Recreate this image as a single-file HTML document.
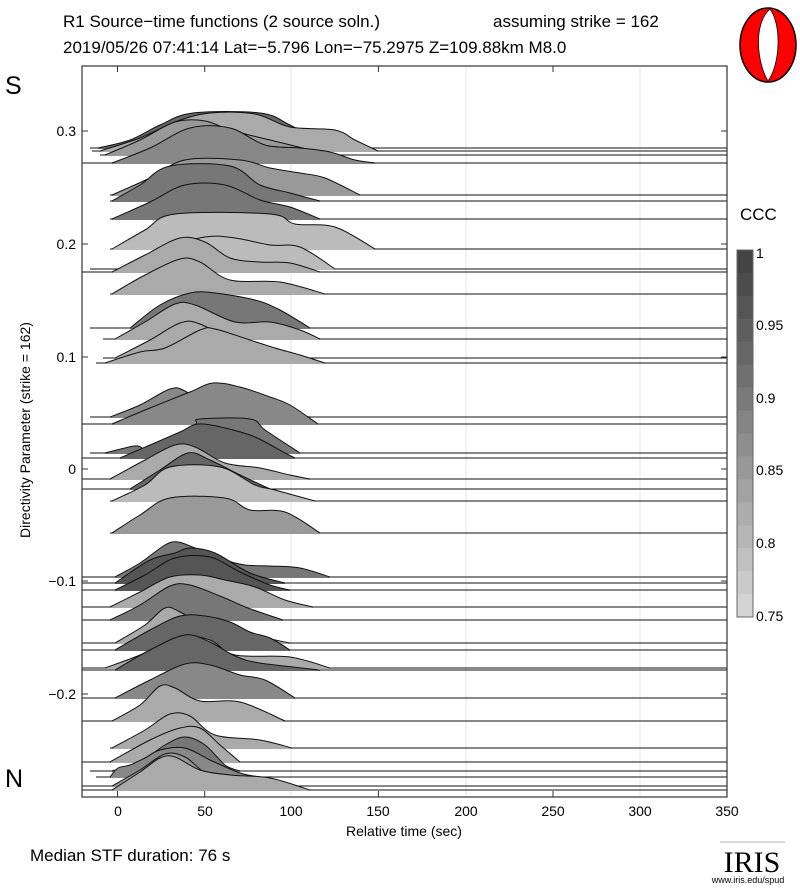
<!DOCTYPE html>
<html><head><meta charset="utf-8"><style>
body{margin:0;background:#fff;}
svg text{font-family:"Liberation Sans",sans-serif;}
</style></head><body>
<svg id="s" width="800" height="887" xmlns="http://www.w3.org/2000/svg">
<rect width="800" height="887" fill="#fff"/>
<text x="63" y="27" font-size="17">R1 Source−time functions (2 source soln.)</text>
<text x="493" y="27" font-size="17">assuming strike = 162</text>
<text x="63" y="53" font-size="17">2019/05/26 07:41:14  Lat=−5.796 Lon=−75.2975  Z=109.88km  M8.0</text>
<ellipse cx="768" cy="45" rx="28" ry="37" fill="#f00" stroke="#000" stroke-width="1.5"/>
<path d="M770,9 C752,25 758,65 768,81 C780,65 782,25 770,9 Z" fill="#fff" stroke="#000" stroke-width="0.8"/>
<text x="5" y="94" font-size="25">S</text>
<text x="5" y="787" font-size="25">N</text>
<g stroke="#e6e6e6" stroke-width="1"><line x1="291" y1="66" x2="291" y2="797"/><line x1="466" y1="66" x2="466" y2="797"/><line x1="640" y1="66" x2="640" y2="797"/></g>
<g id="tr"></g>
<rect x="82" y="66" width="645" height="731" fill="none" stroke="#333" stroke-width="1.2"/>
<g id="ax" stroke="#333" stroke-width="1"></g>
<g font-size="14" text-anchor="end">
<text x="76" y="136">0.3</text><text x="76" y="249">0.2</text><text x="76" y="362">0.1</text><text x="76" y="474">0</text><text x="76" y="586">−0.1</text><text x="76" y="699">−0.2</text></g>
<g font-size="14" text-anchor="middle">
<text x="118" y="816">0</text><text x="205" y="816">50</text><text x="291" y="816">100</text><text x="378" y="816">150</text><text x="466" y="816">200</text><text x="553" y="816">250</text><text x="640" y="816">300</text><text x="727" y="816">350</text></g>
<text x="404" y="836" font-size="14" text-anchor="middle">Relative time (sec)</text>
<text transform="translate(30,430) rotate(-90)" font-size="14" text-anchor="middle">Directivity Parameter (strike = 162)</text>
<text x="30" y="861" font-size="17">Median STF duration: 76 s</text>
<text x="740" y="220" font-size="17">CCC</text>
<g id="cb"></g>
<g font-size="14"><text x="756" y="258">1</text><text x="756" y="330">0.95</text><text x="756" y="403">0.9</text><text x="756" y="475">0.85</text><text x="756" y="548">0.8</text><text x="756" y="621">0.75</text></g>
<line x1="720" y1="842" x2="785" y2="842" stroke="#999" stroke-width="0.8"/>
<text x="752" y="872" font-size="30" text-anchor="middle" font-family="Liberation Serif,serif" style="font-family:'Liberation Serif',serif">IRIS</text>
<text x="748" y="883" font-size="9" text-anchor="middle">www.iris.edu/spud</text>
</svg>
<script>
var T=[
[148,90,"#666",[[98,148],[130,140],[160,125],[193,113],[260,113],[290,125],[330,148]]],
[151,92,"#aaa",[[100,151],[140,138],[175,122],[210,113],[255,114],[290,127],[335,130],[355,140],[378,151]]],
[155,100,"#999",[[105,155],[140,140],[175,122],[205,121],[230,130],[270,140],[310,150],[325,155]]],
[163,82,"#888",[[112,163],[150,148],[190,128],[230,128],[265,145],[300,148],[330,152],[355,160],[375,163]]],
[195,110,"#999",[[112,195],[150,178],[185,160],[240,160],[270,168],[300,173],[325,178],[360,195]]],
[201,110,"#777",[[112,201],[140,185],[170,166],[230,166],[260,185],[290,193],[320,201]]],
[219,110,"#777",[[112,219],[150,202],[185,185],[225,185],[260,200],[290,207],[320,219]]],
[249,110,"#bbb",[[112,249],[145,230],[175,214],[270,214],[295,224],[335,227],[375,249]]],
[269,90,"#bbb",[[118,269],[160,250],[205,237],[235,238],[270,245],[300,247],[335,269]]],
[272,82,"#aaa",[[112,272],[145,255],[180,238],[205,242],[230,258],[260,262],[290,263],[320,272]]],
[294,110,"#aaa",[[112,294],[145,275],[180,259],[200,262],[230,280],[280,282],[325,294]]],
[328,90,"#777",[[130,328],[160,305],[190,293],[215,293],[255,300],[280,310],[310,328]]],
[339,103,"#aaa",[[115,339],[145,322],[175,304],[195,305],[235,322],[270,322],[300,330],[320,339]]],
[358,103,"#aaa",[[115,358],[150,340],[180,323],[200,324],[240,345],[270,358]]],
[363,96,"#aaa",[[105,363],[140,352],[165,348],[200,330],[215,329],[250,340],[275,348],[300,355],[325,363]]],
[417,90,"#888",[[110,417],[140,405],[170,389],[185,391],[215,410],[270,411],[310,417]]],
[424,82,"#888",[[112,424],[145,410],[190,392],[213,383],[240,387],[270,397],[290,405],[318,424]]],
[453,90,"#777",[[105,453],[125,448],[138,446],[150,452],[170,444],[195,425],[200,419],[250,419],[265,430],[300,453]]],
[458,82,"#666",[[120,458],[150,445],[180,432],[198,424],[225,428],[255,437],[285,453],[295,458]]],
[479,82,"#aaa",[[110,479],[145,460],[175,445],[195,447],[225,463],[260,468],[290,475],[310,479]]],
[489,82,"#666",[[130,489],[160,470],[188,453],[210,460],[240,475],[270,489]]],
[501,110,"#bbb",[[112,501],[145,485],[170,467],[220,467],[255,485],[275,490],[315,501]]],
[533,110,"#999",[[112,533],[140,515],[170,498],[225,498],[250,510],[285,512],[320,533]]],
[577,82,"#777",[[115,577],[140,563],[165,545],[178,542],[195,548],[225,560],[245,565],[270,566],[300,568],[330,577]]],
[583,82,"#555",[[115,583],[150,560],[175,553],[190,548],[215,553],[250,573],[285,583]]],
[590,82,"#555",[[115,590],[145,575],[175,558],[210,557],[240,572],[270,585],[290,590]]],
[607,82,"#aaa",[[110,607],[140,592],[170,577],[200,575],[225,580],[255,587],[285,600],[313,607]]],
[620,82,"#777",[[110,620],[140,605],[170,586],[190,585],[220,596],[248,608],[283,620]]],
[643,82,"#aaa",[[115,643],[145,625],[165,608],[180,612],[210,628],[250,635],[290,643]]],
[650,82,"#666",[[115,650],[150,630],[180,616],[205,616],[230,622],[250,632],[270,638],[290,650]]],
[668,82,"#aaa",[[105,668],[140,655],[180,637],[210,640],[235,655],[290,657],[330,668]]],
[670,82,"#666",[[115,670],[150,650],[185,635],[210,642],[235,656],[260,663],[320,670]]],
[698,82,"#888",[[115,698],[150,680],[185,664],[210,665],[240,675],[265,680],[295,698]]],
[721,82,"#aaa",[[112,721],[140,705],[160,686],[175,688],[200,701],[240,702],[285,721]]],
[748,110,"#aaa",[[112,748],[145,730],[170,714],[190,716],[215,735],[260,740],[292,748]]],
[762,82,"#aaa",[[110,762],[150,740],[180,728],[200,728],[220,745],[240,762]]],
[771,90,"#777",[[112,771],[140,762],[165,745],[185,737],[205,745],[225,765],[240,771]]],
[777,96,"#888",[[110,777],[118,768],[130,765],[145,758],[160,750],[185,748],[210,760],[240,773],[260,777]]],
[786,82,"#999",[[112,786],[140,770],[165,754],[185,757],[210,775],[250,779],[295,786]]],
[790,82,"#aaa",[[112,790],[140,772],[160,758],[175,757],[200,770],[230,775],[270,778],[310,790]]]
];
function smooth(p){var d="M"+p[0][0]+","+p[0][1];for(var i=0;i<p.length-1;i++){var p0=p[i>0?i-1:i],p1=p[i],p2=p[i+1],p3=p[i+2<p.length?i+2:i+1];
var c1x=p1[0]+(p2[0]-p0[0])/6,c1y=p1[1]+(p2[1]-p0[1])/6,c2x=p2[0]-(p3[0]-p1[0])/6,c2y=p2[1]-(p3[1]-p1[1])/6;
d+=" C"+c1x.toFixed(1)+","+c1y.toFixed(1)+" "+c2x.toFixed(1)+","+c2y.toFixed(1)+" "+p2[0]+","+p2[1];}return d;}
var g=document.getElementById("tr"),h="";
T.forEach(function(t){var b=t[0],p=t[3],c=smooth(p);
h+='<path d="'+c+' L'+p[p.length-1][0]+','+(b+1)+' L'+p[0][0]+','+(b+1)+' Z" fill="'+t[2]+'"/>';
h+='<path d="M'+t[1]+','+b+' L'+p[0][0]+','+b+' '+c.slice(1).replace(/^[^ ]+/,"")+' L727,'+b+'" fill="none" stroke="#111" stroke-width="1"/>';
});
g.innerHTML=h;
var ax="";[131,244,357,469,581,694].forEach(function(y){ax+='<line x1="82" y1="'+y+'" x2="88" y2="'+y+'"/><line x1="721" y1="'+y+'" x2="727" y2="'+y+'"/>';});
[117.5,204.7,378.4,553,727].forEach(function(x){ax+='<line x1="'+x+'" y1="66" x2="'+x+'" y2="72"/><line x1="'+x+'" y1="791" x2="'+x+'" y2="797"/>';});
document.getElementById("ax").innerHTML=ax;
var cb="",cols=["#444","#4c4c4c","#555","#5e5e5e","#666","#707070","#7a7a7a","#848484","#8e8e8e","#989898","#a2a2a2","#acacac","#b6b6b6","#c0c0c0","#cacaca","#d4d4d4"];
var n=cols.length,y0=250,y1=617;for(var i=0;i<n;i++){var a=y0+(y1-y0)*i/n,bb=y0+(y1-y0)*(i+1)/n;cb+='<rect x="737" y="'+a.toFixed(1)+'" width="16" height="'+(bb-a+0.5).toFixed(1)+'" fill="'+cols[i]+'"/>';}
cb+='<rect x="737" y="250" width="16" height="367" fill="none" stroke="#666"/>';
document.getElementById("cb").innerHTML=cb;
</script>
</body></html>
